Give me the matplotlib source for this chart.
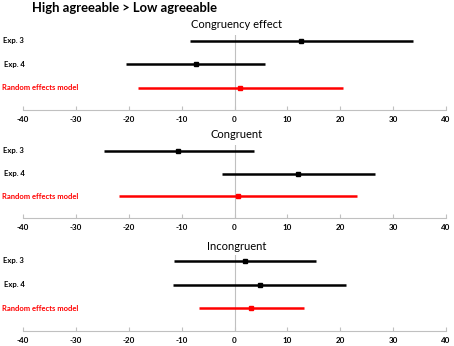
import matplotlib
matplotlib.use("Agg")
import matplotlib.pyplot as plt
import matplotlib.transforms as mtransforms
import numpy as np

plt.rcParams['font.family'] = ['Lato', 'DejaVu Sans']

studies = ["Exp. 3", "Exp. 4", "Random effects model"]
panels = ["Congruency effect", "Congruent", "Incongruent"]

# estimate, lower, upper per panel (order: Exp. 3, Exp. 4, random effects)
est = [[12.6, -7.3, 1.0],
       [-10.6, 12.1, 0.7],
       [2.0, 4.9, 3.2]]
lower = [[-8.4, -20.6, -18.3],
         [-24.7, -2.3, -21.8],
         [-11.4, -11.6, -6.8]]
upper = [[33.7, 5.8, 20.5],
         [3.6, 26.5, 23.1],
         [15.5, 21.0, 13.2]]
colors = ["black", "black", "#ff0000"]

xticks = np.arange(-40, 41, 10)

W, H = 454, 346
fig = plt.figure(figsize=(W / 100, H / 100), dpi=100)

# (top px, bottom px, title y px)
boxes = [(35, 110, 24), (145, 218, 134), (255, 331, 247)]
label_x = [3, 4, 2]

fig.text(32 / W, 1 - 8 / H, "High agreeable > Low agreeable",
         fontsize=9.4, fontweight="bold", ha="left", va="center")

for p in range(3):
    top, bot, ty = boxes[p]
    ax = fig.add_axes([23 / W, 1 - bot / H, 423 / W, (bot - top) / H])
    ax.axvline(0, color="#c0c0c0", lw=0.8, zorder=1)
    trans = mtransforms.blended_transform_factory(fig.transFigure, ax.transData)
    ypos = np.arange(len(studies))
    for i in range(len(studies)):
        ax.hlines(ypos[i], lower[p][i], upper[p][i], color=colors[i], lw=1.8, zorder=2)
        ax.plot(est[p][i], ypos[i], marker="s", ms=3.5, color=colors[i], zorder=3)
        ax.text(label_x[i] / W, ypos[i], studies[i], transform=trans,
                fontsize=5.5, fontweight="bold", color=colors[i], ha="left", va="center")
    ax.set_xlim(-40, 40)
    ax.set_ylim(2.95, -0.25)
    ax.set_xticks(xticks)
    ax.set_xticklabels([str(t) for t in xticks], fontsize=5.8, fontweight="bold")
    ax.set_yticks([])
    for s in ["left", "top", "right"]:
        ax.spines[s].set_visible(False)
    ax.spines["bottom"].set_color("#c0c0c0")
    ax.spines["bottom"].set_linewidth(0.8)
    ax.tick_params(axis="x", direction="in", length=3, color="#c0c0c0", pad=4.5)
    fig.text(237 / W, 1 - ty / H, panels[p], fontsize=8, ha="center", va="center")

fig.savefig("out.png", dpi=100)
